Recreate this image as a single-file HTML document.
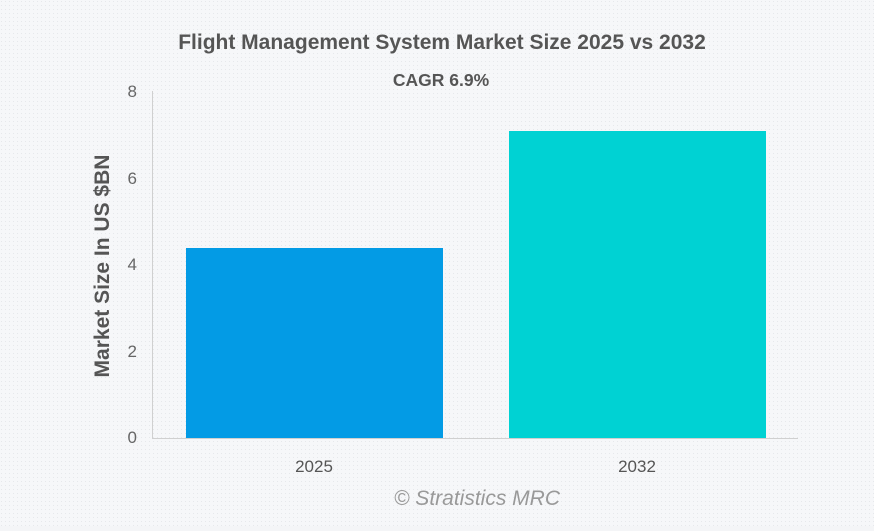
<!DOCTYPE html>
<html><head><style>
body{margin:0;width:874px;height:526px;background:#f4f5f7;font-family:"Liberation Sans",sans-serif;overflow:hidden}
</style></head><body>
<svg width="874" height="526" xmlns="http://www.w3.org/2000/svg">
<defs><pattern id="d" width="4" height="4" patternUnits="userSpaceOnUse"><rect width="4" height="4" fill="#f6f7f9"/><rect x="1" y="1" width="1" height="1" fill="#e6e8eb"/></pattern></defs>
<rect width="874" height="526" fill="url(#d)"/>
<text x="442" y="49" text-anchor="middle" font-size="21" font-weight="bold" fill="#555">Flight Management System Market Size 2025 vs 2032</text>
<text x="441" y="86" text-anchor="middle" font-size="17.5" font-weight="bold" fill="#555">CAGR 6.9%</text>
<line x1="152.5" y1="91" x2="152.5" y2="438" stroke="#d0d0d0"/>
<line x1="152" y1="438.5" x2="798" y2="438.5" stroke="#d0d0d0"/>
<g font-size="17" fill="#666" text-anchor="end">
<text x="137" y="97">8</text><text x="137" y="184">6</text><text x="137" y="270">4</text><text x="137" y="357">2</text><text x="137" y="443">0</text>
</g>
<text transform="translate(109,266) rotate(-90)" text-anchor="middle" font-size="21" font-weight="bold" fill="#555">Market Size In US $BN</text>
<rect x="186" y="248" width="257" height="190" fill="#039be5"/>
<rect x="509" y="131" width="257" height="307" fill="#00d2d3"/>
<text x="314" y="472" text-anchor="middle" font-size="17" fill="#555">2025</text>
<text x="637" y="472" text-anchor="middle" font-size="17" fill="#555">2032</text>
<text x="477" y="505" text-anchor="middle" font-size="21" font-style="italic" fill="#999">© Stratistics MRC</text>
</svg>
</body></html>
